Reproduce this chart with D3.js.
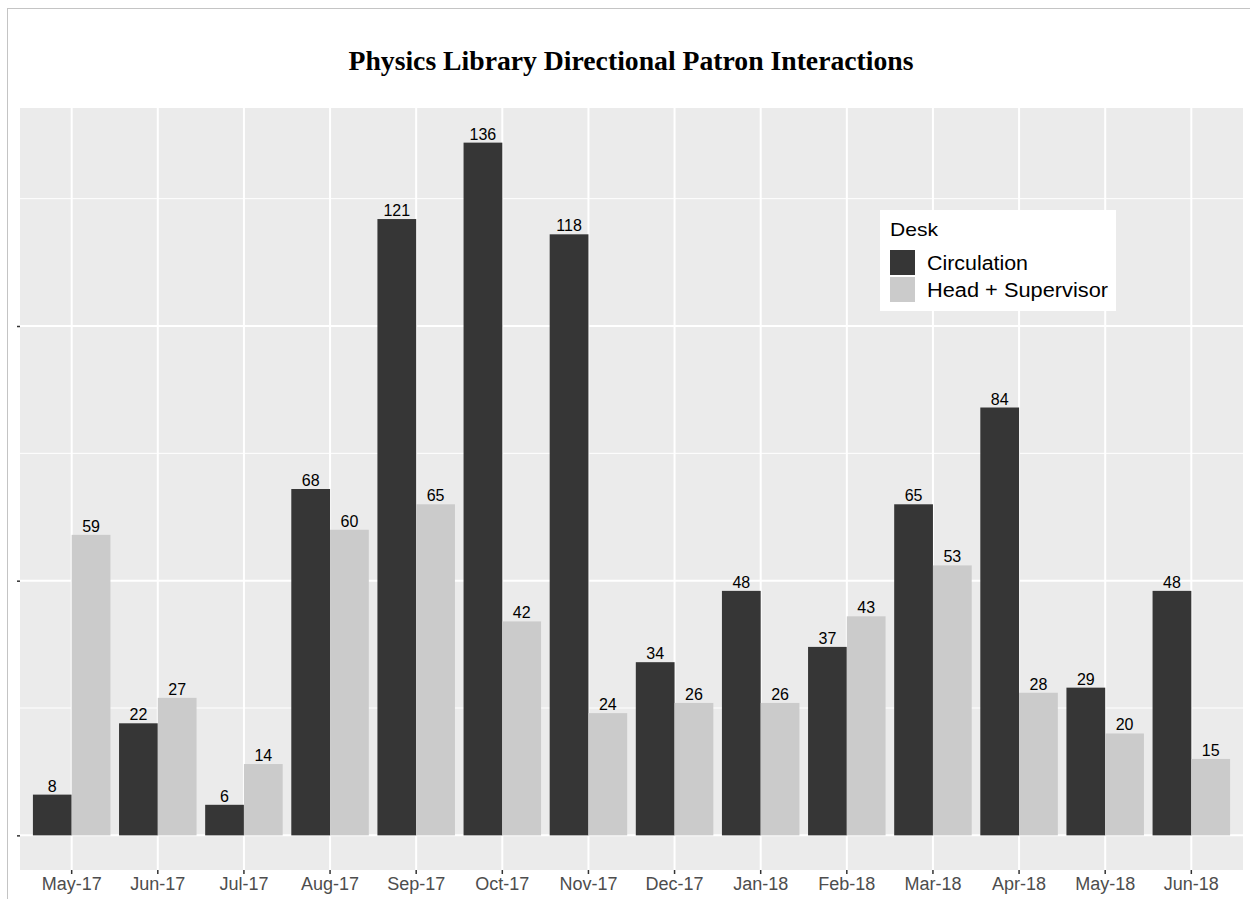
<!DOCTYPE html>
<html><head><meta charset="utf-8">
<script src="https://cdn.jsdelivr.net/npm/d3@7"></script>
<style>body{margin:0;background:#fff}svg{display:block}</style>
</head><body>
<script>
const months = ["May-17","Jun-17","Jul-17","Aug-17","Sep-17","Oct-17","Nov-17","Dec-17","Jan-18","Feb-18","Mar-18","Apr-18","May-18","Jun-18"];
const seriesNames = ["Circulation","Head + Supervisor"];
const circulation = [8,22,6,68,121,136,118,34,48,37,65,84,29,48];
const headSupervisor = [59,27,14,60,65,42,24,26,26,43,53,28,20,15];
const majorTicks = [0,50,100];
const minorTicks = [25,75,125];
const colors = ["#363636","#cbcbcb"];

const W = 1250, H = 899;
const svg = d3.select("body").append("svg").attr("width", W).attr("height", H);
svg.append("rect").attr("x",7.5).attr("y",8.5).attr("width",W).attr("height",H).attr("fill","none").attr("stroke","#c4c4c4");

const panel = {l:20, r:1243, t:108, b:870};
const maxV = d3.max([...circulation, ...headSupervisor]);
const y = d3.scaleLinear().domain([-0.05*maxV, 1.05*maxV]).range([panel.b, panel.t]);
const n = months.length;
const xc = d3.scaleLinear().domain([0.4, n+0.6]).range([panel.l, panel.r]);
const x = d3.scaleBand().domain(months).range([xc(0.5), xc(n+0.5)]).padding(0);
const barW = x.bandwidth()*0.9;
const xs = d3.scaleBand().domain(seriesNames).range([x.bandwidth()*0.05, x.bandwidth()*0.05 + barW]);

svg.append("rect").attr("x",panel.l).attr("y",panel.t).attr("width",panel.r-panel.l).attr("height",panel.b-panel.t).attr("fill","#ebebeb");
const g = svg.append("g");
minorTicks.forEach(v=>g.append("line").attr("x1",panel.l).attr("x2",panel.r).attr("y1",y(v)).attr("y2",y(v)).attr("stroke","#fff").attr("stroke-width",1));
majorTicks.forEach(v=>g.append("line").attr("x1",panel.l).attr("x2",panel.r).attr("y1",y(v)).attr("y2",y(v)).attr("stroke","#fff").attr("stroke-width",2));
months.forEach(m=>{const cx=x(m)+x.bandwidth()/2; g.append("line").attr("x1",cx).attr("x2",cx).attr("y1",panel.t).attr("y2",panel.b).attr("stroke","#fff").attr("stroke-width",2);});

const data = months.map((m,i)=>({m, vals:[circulation[i], headSupervisor[i]]}));
const grp = svg.selectAll("g.m").data(data).enter().append("g").attr("transform",d=>`translate(${x(d.m)},0)`);
grp.selectAll("rect").data(d=>d.vals.map((v,j)=>({v,s:seriesNames[j],j}))).enter().append("rect")
  .attr("x",d=>xs(d.s)).attr("width",xs.bandwidth()).attr("y",d=>y(d.v)).attr("height",d=>y(0)-y(d.v)).attr("fill",d=>colors[d.j]);
grp.selectAll("text").data(d=>d.vals.map((v,j)=>({v,s:seriesNames[j],j}))).enter().append("text")
  .attr("x",d=>xs(d.s)+xs.bandwidth()/2).attr("y",d=>y(d.v)-3).attr("text-anchor","middle")
  .attr("font-family","Liberation Sans, Arial, sans-serif").attr("font-size",16).attr("fill","#000").text(d=>d.v);

// axes
const yAxis = d3.axisLeft(y).tickValues(majorTicks).tickSize(3).tickFormat("");
svg.append("g").attr("transform",`translate(${panel.l},0)`).call(yAxis).call(a=>{a.select(".domain").remove();a.selectAll("line").attr("stroke","#333").attr("stroke-width",1.5);});
const xAxis = d3.axisBottom(x).tickSize(4).tickPadding(3);
svg.append("g").attr("transform",`translate(0,${panel.b})`).call(xAxis).call(a=>{a.select(".domain").remove();a.selectAll("line").attr("stroke","#333").attr("stroke-width",1.5);a.selectAll("text").attr("fill","#4d4d4d").attr("font-size",18).attr("font-family","Liberation Sans, Arial, sans-serif");});

svg.append("text").attr("x",631).attr("y",70).attr("text-anchor","middle").attr("font-family","Liberation Serif, Times New Roman, serif").attr("font-weight","bold").attr("font-size",27)
  .attr("textLength",565).attr("lengthAdjust","spacingAndGlyphs").text("Physics Library Directional Patron Interactions");

// legend
const lg = svg.append("g").attr("transform","translate(880,210)");
lg.append("rect").attr("width",236).attr("height",101).attr("fill","#fff");
lg.append("text").attr("x",10).attr("y",26).attr("font-family","Liberation Sans, Arial, sans-serif").attr("font-size",19).attr("textLength",48).attr("lengthAdjust","spacingAndGlyphs").text("Desk");
const legW = [101, 181];
seriesNames.forEach((s,i)=>{
  lg.append("rect").attr("x",10).attr("y",40+i*27).attr("width",25).attr("height",25).attr("fill",colors[i]);
  lg.append("text").attr("x",47).attr("y",60+i*27).attr("font-family","Liberation Sans, Arial, sans-serif").attr("font-size",20).attr("textLength",legW[i]).attr("lengthAdjust","spacingAndGlyphs").text(s);
});
</script>
</body></html>
